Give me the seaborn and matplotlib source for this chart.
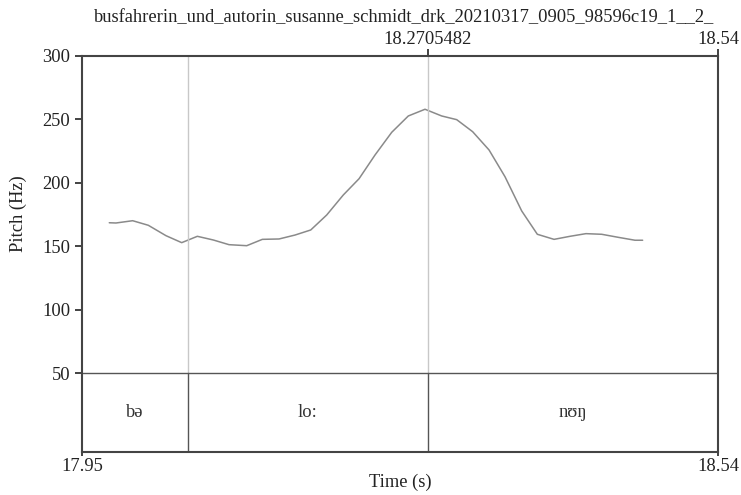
import matplotlib
matplotlib.use("Agg")
import matplotlib.pyplot as plt
import seaborn as sns
import pandas as pd

title = "busfahrerin_und_autorin_susanne_schmidt_drk_20210317_0905_98596c19_1__2_"
t_start, t_end = 17.95, 18.54
cursor_time = 18.2705482

times = [17.9753, 17.9815, 17.9970, 18.0115, 18.0279, 18.0425, 18.0570, 18.0718,
         18.0864, 18.1028, 18.1173, 18.1328, 18.1476, 18.1622, 18.1770, 18.1924,
         18.2070, 18.2218, 18.2373, 18.2527, 18.2682, 18.2837, 18.2976, 18.3124,
         18.3276, 18.3424, 18.3579, 18.3724, 18.3879, 18.4027, 18.4175, 18.4321,
         18.4475, 18.4630, 18.4701]
pitch = [168.5, 168.3, 170.1, 166.5, 158.3, 152.8, 157.8, 154.9,
         151.2, 150.4, 155.4, 155.7, 158.8, 162.8, 174.6, 190.4,
         203.2, 221.9, 239.8, 252.7, 258.0, 252.7, 249.8, 240.3,
         225.9, 204.8, 177.8, 159.4, 155.4, 157.8, 159.9, 159.4,
         157.0, 154.7, 154.7]

boundaries = [18.0484, 18.2705482]
interval_labels = ["bə", "lo:", "nʊŋ"]
yticks = [50, 100, 150, 200, 250, 300]

sns.set_style("ticks")
plt.rcParams["font.family"] = ["Liberation Serif", "DejaVu Serif"]
FS = 13.3

fig = plt.figure(figsize=(7.41, 4.95), dpi=100)
ax = fig.add_axes([82/741, 1-452/495, 636/741, 396/495])

pitch_min, pitch_max = 50, 300
tier_bottom = -12.3
ax.set_xlim(t_start, t_end)
ax.set_ylim(tier_bottom, pitch_max)

df = pd.DataFrame({"t": times, "f0": pitch})
sns.lineplot(data=df, x="t", y="f0", ax=ax, color="#8a8a8a", linewidth=1.1, sort=False)

# boundaries
for b in boundaries:
    ax.plot([b, b], [pitch_min, pitch_max], color="#c8c8c8", linewidth=1.0)
    ax.plot([b, b], [tier_bottom, pitch_min], color="#555555", linewidth=1.0)
ax.axhline(pitch_min, color="#555555", linewidth=1.0)

edges = [t_start] + boundaries + [t_end]
tier_mid = (tier_bottom + pitch_min) / 2
for i, lab in enumerate(interval_labels):
    ax.text((edges[i] + edges[i+1]) / 2, tier_mid, lab, ha="center", va="center",
            fontsize=FS, color="#333333", family=["Liberation Serif", "DejaVu Serif"])

for s in ax.spines.values():
    s.set_color("#444444")
    s.set_linewidth(1.5)

ax.set_yticks(yticks)
ax.set_yticklabels([str(v) for v in yticks])
ax.set_xticks([t_start, t_end])
ax.set_xticklabels(["17.95", "18.54"])
ax.tick_params(axis="both", labelsize=FS, colors="#222222", length=5, width=1.2, direction="out")
ax.tick_params(axis="x", pad=1, length=3)

ax.set_xlabel("")
ax.set_ylabel("")
fig.text(400/741, 1-482/495, "Time (s)", ha="center", va="center", fontsize=FS, color="#222222")
fig.text(18/741, 1-214/495, "Pitch (Hz)", rotation=90, ha="center", va="center",
         fontsize=FS, color="#222222")

top = ax.secondary_xaxis("top")
top.set_xticks([cursor_time, t_end])
top.set_xticklabels(["18.2705482", "18.54"])
top.tick_params(labelsize=FS, colors="#222222", length=5, width=1.2, pad=1)
top.spines["top"].set_visible(False)

fig.text(404/741, 1-18/495, title, ha="center", va="center", fontsize=FS, color="#222222")

fig.savefig("out.png", dpi=100)
